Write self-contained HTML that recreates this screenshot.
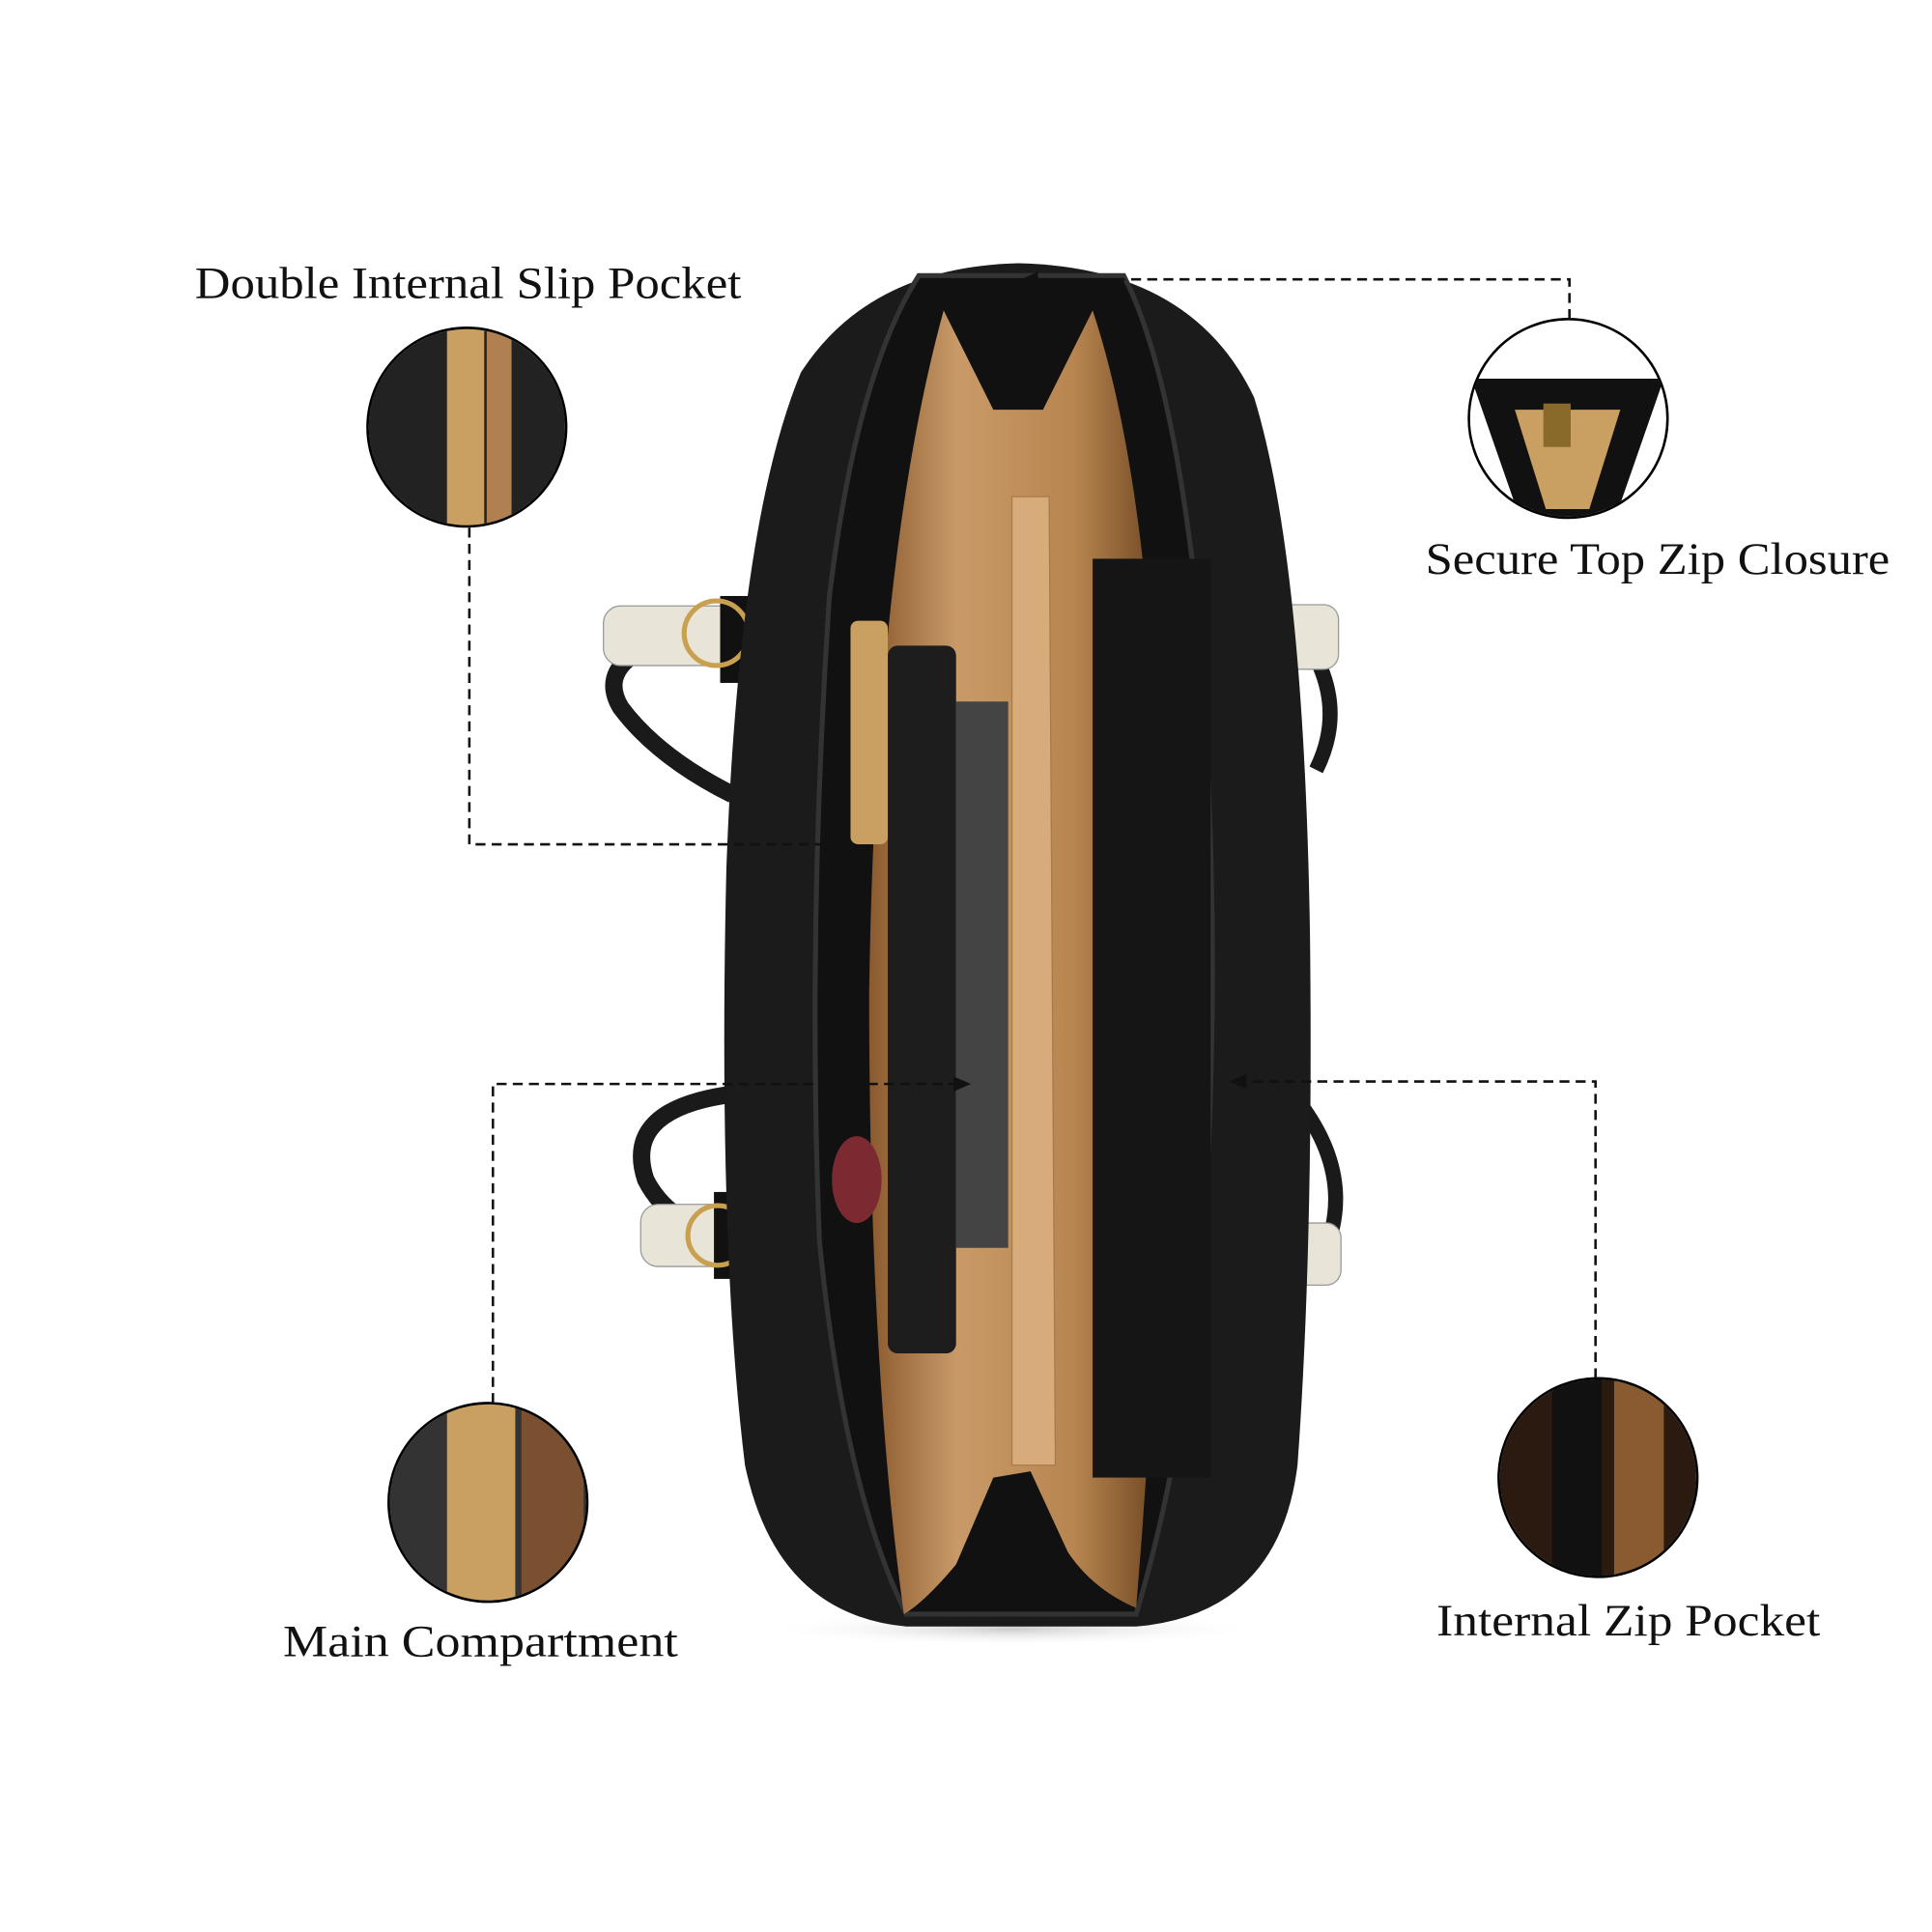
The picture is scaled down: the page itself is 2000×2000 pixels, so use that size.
<!DOCTYPE html>
<html><head><meta charset="utf-8"><style>
html,body{margin:0;padding:0;background:#fff;width:2000px;height:2000px;overflow:hidden}
svg{display:block}
text{font-family:"Liberation Serif",serif;fill:#111}
</style></head><body>
<svg width="2000" height="2000" viewBox="0 0 1556 1556" xmlns="http://www.w3.org/2000/svg">
<defs>
<radialGradient id="sh" cx="50%" cy="50%" r="50%"><stop offset="0" stop-color="#ccc"/><stop offset="1" stop-color="#fff" stop-opacity="0"/></radialGradient>
<linearGradient id="tan" x1="0" x2="1"><stop offset="0" stop-color="#8a5a2e"/><stop offset="0.3" stop-color="#c99a68"/><stop offset="0.7" stop-color="#b88550"/><stop offset="1" stop-color="#6d4520"/></linearGradient>
<clipPath id="c1"><circle cx="376" cy="344" r="79"/></clipPath>
<clipPath id="c2"><circle cx="1263" cy="337" r="79"/></clipPath>
<clipPath id="c3"><circle cx="393" cy="1210" r="79"/></clipPath>
<clipPath id="c4"><circle cx="1287" cy="1190" r="79"/></clipPath>
</defs>
<rect width="1556" height="1556" fill="#fff"/>
<ellipse cx="815" cy="1312" rx="200" ry="14" fill="url(#sh)"/>
<!-- handles -->
<path d="M600 500 Q470 520 500 570 Q530 610 590 640" fill="none" stroke="#1a1a1a" stroke-width="14"/>
<path d="M600 880 Q500 890 520 950 Q540 990 600 1000" fill="none" stroke="#1a1a1a" stroke-width="14"/>
<path d="M1040 500 Q1090 560 1060 620" fill="none" stroke="#1a1a1a" stroke-width="12"/>
<path d="M1040 880 Q1090 940 1070 1000" fill="none" stroke="#1a1a1a" stroke-width="12"/>
<rect x="486" y="488" width="110" height="48" rx="14" fill="#e8e4d8" stroke="#999"/>
<rect x="516" y="970" width="90" height="50" rx="14" fill="#e8e4d8" stroke="#999"/>
<rect x="1020" y="487" width="58" height="52" rx="12" fill="#e8e4d8" stroke="#999"/>
<rect x="1028" y="985" width="52" height="50" rx="12" fill="#e8e4d8" stroke="#999"/>
<rect x="580" y="480" width="40" height="70" fill="#111"/>
<rect x="575" y="960" width="45" height="70" fill="#111"/>
<circle cx="577" cy="510" r="26" fill="none" stroke="#c8a050" stroke-width="4"/>
<circle cx="578" cy="995" r="24" fill="none" stroke="#c8a050" stroke-width="4"/>
<!-- bag body -->
<path d="M820 212 Q700 215 645 300 Q595 420 585 700 Q578 1000 600 1180 Q625 1300 730 1310 L915 1310 Q1030 1300 1045 1180 Q1058 1000 1055 750 Q1050 450 1010 320 Q960 215 820 212 Z" fill="#1b1b1b"/>
<path d="M740 222 Q690 300 668 480 Q650 750 660 1000 Q680 1200 730 1300 L915 1300 Q960 1150 972 950 Q985 700 960 450 Q940 290 905 222 Z" fill="#111" stroke="#333" stroke-width="4"/>
<path d="M760 250 L800 330 L840 330 L880 250 Q930 400 935 700 Q940 1000 915 1295 Q880 1280 860 1250 L830 1185 L800 1190 L770 1260 Q745 1290 728 1300 Q700 1100 700 800 Q705 450 760 250 Z" fill="url(#tan)"/>
<path d="M815 400 L845 400 L850 1180 L815 1180 Z" fill="#d7ab7a" stroke="#a87a48"/>
<rect x="770" y="565" width="42" height="440" fill="#444"/>
<rect x="715" y="520" width="55" height="570" fill="#1d1d1d" rx="8"/>
<rect x="880" y="450" width="95" height="740" fill="#151515"/>
<rect x="685" y="500" width="30" height="180" fill="#c9a062" rx="6"/>
<ellipse cx="690" cy="950" rx="20" ry="35" fill="#7a2a30"/>
<!-- circles -->
<g clip-path="url(#c1)"><rect x="290" y="260" width="180" height="180" fill="#222"/><rect x="360" y="260" width="30" height="170" fill="#c9a062"/><rect x="392" y="260" width="20" height="170" fill="#b08050"/></g>
<circle cx="376" cy="344" r="80" fill="none" stroke="#000" stroke-width="2"/>
<g clip-path="url(#c2)"><rect x="1180" y="255" width="170" height="170" fill="#fff"/><path d="M1185 305 L1340 305 L1300 420 L1225 420 Z" fill="#111"/><path d="M1220 330 L1305 330 L1280 410 L1245 410 Z" fill="#c9a062"/><rect x="1243" y="325" width="22" height="35" fill="#8a6a2a"/></g>
<circle cx="1263" cy="337" r="80" fill="none" stroke="#000" stroke-width="2"/>
<g clip-path="url(#c3)"><rect x="310" y="1125" width="170" height="170" fill="#333"/><rect x="360" y="1125" width="55" height="170" fill="#c9a062"/><rect x="420" y="1125" width="50" height="170" fill="#7a5030"/></g>
<circle cx="393" cy="1210" r="80" fill="none" stroke="#000" stroke-width="2"/>
<g clip-path="url(#c4)"><rect x="1205" y="1110" width="170" height="170" fill="#2a1a10"/><rect x="1250" y="1110" width="40" height="170" fill="#111"/><rect x="1300" y="1110" width="40" height="170" fill="#8a5a30"/></g>
<circle cx="1287" cy="1190" r="80" fill="none" stroke="#000" stroke-width="2"/>
<!-- connectors -->
<g fill="none" stroke="#111" stroke-width="2" stroke-dasharray="8,5">
<path d="M378 425 V680 H680"/>
<path d="M1264 257 V225 H832"/>
<path d="M397 1130 V873 H770"/>
<path d="M1285 1110 V871 H1000"/>
</g>
<polygon points="690,680 676,674 676,686" fill="#111"/>
<polygon points="822,225 836,219 836,231" fill="#111"/>
<polygon points="782,873 768,867 768,879" fill="#111"/>
<polygon points="990,871 1004,865 1004,877" fill="#111"/>
<!-- labels -->
<text x="157" y="240" font-size="36" textLength="440" lengthAdjust="spacingAndGlyphs">Double Internal Slip Pocket</text>
<text x="1148" y="462" font-size="36" textLength="374" lengthAdjust="spacingAndGlyphs">Secure Top Zip Closure</text>
<text x="228" y="1334" font-size="36" textLength="318" lengthAdjust="spacingAndGlyphs">Main Compartment</text>
<text x="1157" y="1317" font-size="36" textLength="309" lengthAdjust="spacingAndGlyphs">Internal Zip Pocket</text>
</svg>
</body></html>
